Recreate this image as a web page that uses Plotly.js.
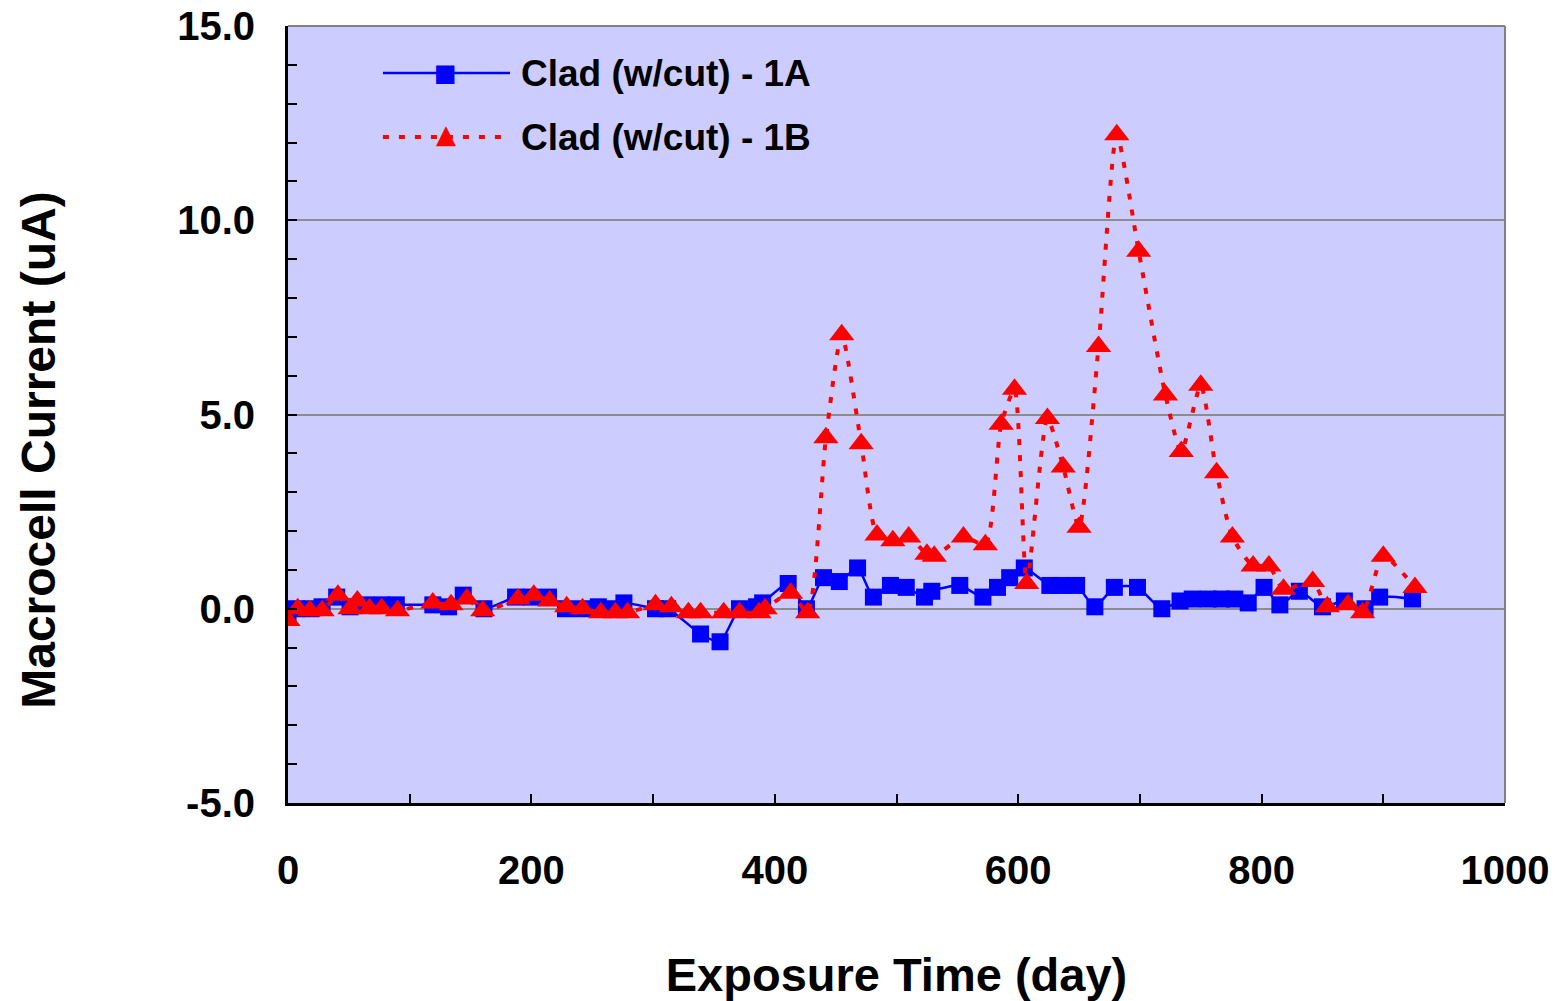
<!DOCTYPE html>
<html>
<head>
<meta charset="utf-8">
<script src="https://cdn.plot.ly/plotly-3.0.1.min.js"></script>
<style>html,body{margin:0;padding:0;background:#fff;}#chart{width:1565px;height:1001px;}</style>
</head>
<body>
<div id="chart"></div>
<script>
// Series 1A (blue squares)
const daysA = [0,7,19,28,40,51,64,77,89,119,132,144,161,187,200,214,228,242,255,268,276,302,312,339,355,371,385,390,411,426,440,453,468,481,495,508,523,529,552,571,583,593,605,626,636,648,663,679,698,718,733,743,756,767,778,789,802,815,831,850,868,885,897,924];
const currentA = [-0.2,0.0,0.0,0.05,0.3,0.05,0.1,0.1,0.1,0.1,0.05,0.35,0.0,0.3,0.3,0.3,0.0,0.0,0.05,0.0,0.15,0.0,0.0,-0.65,-0.85,0.0,0.05,0.15,0.65,0.0,0.8,0.7,1.05,0.3,0.6,0.55,0.3,0.45,0.6,0.3,0.55,0.8,1.05,0.6,0.6,0.6,0.05,0.55,0.55,0.0,0.2,0.25,0.25,0.25,0.25,0.15,0.55,0.1,0.45,0.05,0.2,0.0,0.3,0.25];
// Series 1B (red triangles)
const daysB = [0,8,18,28,41,51,57,67,77,90,119,134,147,160,189,202,215,229,242,257,269,279,302,315,329,339,358,371,387,392,413,427,442,455,471,484,497,510,525,531,555,573,586,597,607,624,637,650,666,681,699,721,734,750,763,776,793,806,818,842,854,871,883,900,926];
const currentB = [-0.3,0.0,-0.05,-0.05,0.35,0.0,0.2,0.0,0.0,-0.05,0.15,0.1,0.25,-0.05,0.25,0.35,0.2,0.05,0.0,-0.1,-0.1,-0.1,0.1,0.05,-0.1,-0.1,-0.1,-0.1,-0.1,0.0,0.4,-0.1,4.4,7.05,4.25,1.9,1.75,1.85,1.4,1.35,1.85,1.65,4.75,5.65,0.65,4.9,3.65,2.1,6.75,12.2,9.2,5.5,4.05,5.75,3.5,1.85,1.1,1.1,0.5,0.7,0.05,0.1,-0.1,1.35,0.55];
const seriesNames = ['Clad (w/cut) - 1A','Clad (w/cut) - 1B'];
const xTickVals = [0,200,400,600,800,1000];
const yTickVals = [-5,0,5,10,15];
const yTickText = ['-5.0','0.0','5.0','10.0','15.0'];
const xTitle = 'Exposure Time (day)';
const yTitle = 'Macrocell Current (uA)';

const F = 'Liberation Sans, Arial, sans-serif';
const BLUE = '#0000FF', RED = '#FF0000';

const traces = [
  {
    x: daysA, y: currentA, name: seriesNames[0], type: 'scatter', mode: 'lines+markers',
    line: {color: BLUE, width: 2.5, shape: 'spline', smoothing: 0.6},
    marker: {symbol: 'square', size: 17, color: BLUE},
    showlegend: false
  },
  {
    x: daysB, y: currentB, name: seriesNames[1], type: 'scatter', mode: 'lines+markers',
    line: {color: RED, width: 4, dash: '6px,10px', shape: 'spline', smoothing: 0.6},
    marker: {symbol: 'triangle-up', size: 22, color: RED},
    showlegend: false
  }
];

// custom legend (long symbol lines like the original)
const legY = [0.9395, 0.8571];
const legX0 = 0.078, legX1 = 0.1824, legMid = 0.1295, legText = 0.1895;

const layout = {
  width: 1565, height: 1001,
  paper_bgcolor: '#FFFFFF',
  plot_bgcolor: '#CCCCFF',
  margin: {l: 288, r: 60, t: 26, b: 198},
  showlegend: false,
  xaxis: {
    range: [0, 1000],
    tickvals: xTickVals,
    ticks: 'inside', ticklen: 9, tickwidth: 2, tickcolor: '#000',
    minor: {dtick: 100, ticks: 'inside', ticklen: 9, tickwidth: 2, tickcolor: '#000'},
    showline: true, linecolor: '#000', linewidth: 3,
    showgrid: false, zeroline: false,
    ticklabelstandoff: 30,
    tickfont: {family: F, size: 40, color: '#000', weight: 'bold'},
    title: {text: xTitle, font: {family: F, size: 47, color: '#000', weight: 'bold'}, standoff: 79}
  },
  yaxis: {
    range: [-5, 15],
    tickvals: yTickVals, ticktext: yTickText,
    ticks: 'inside', ticklen: 9, tickwidth: 2, tickcolor: '#000',
    minor: {dtick: 1, ticks: 'inside', ticklen: 9, tickwidth: 2, tickcolor: '#000', showgrid: false},
    showline: true, linecolor: '#000', linewidth: 3,
    showgrid: true, gridcolor: '#8C8C8C', gridwidth: 1.5,
    zeroline: false,
    ticklabelstandoff: 22,
    tickfont: {family: F, size: 40, color: '#000', weight: 'bold'}
  },
  shapes: [
    {type: 'line', xref: 'paper', yref: 'paper', x0: 0, x1: 1, y0: 1, y1: 1, line: {color: '#808080', width: 2}},
    {type: 'line', xref: 'paper', yref: 'paper', x0: 1, x1: 1, y0: 0, y1: 1, line: {color: '#808080', width: 2}},
    {type: 'line', xref: 'paper', yref: 'paper', x0: legX0, x1: legX1, y0: legY[0], y1: legY[0], line: {color: BLUE, width: 2.5}},
    {type: 'line', xref: 'paper', yref: 'paper', x0: legX0, x1: legX1, y0: legY[1], y1: legY[1], line: {color: RED, width: 4, dash: '6px,10px'}}
  ],
  annotations: [
    {xref: 'paper', yref: 'paper', x: -0.205, y: 0.454, text: yTitle, textangle: -90, showarrow: false, xanchor: 'center', yanchor: 'middle', font: {family: F, size: 48, color: '#000', weight: 'bold'}},
    {xref: 'paper', yref: 'paper', x: legMid, y: legY[0], text: '■', showarrow: false, xanchor: 'center', yanchor: 'middle', font: {family: 'DejaVu Sans', size: 24, color: BLUE}},
    {xref: 'paper', yref: 'paper', x: legMid, y: legY[1] + 0.004, text: '▲', showarrow: false, xanchor: 'center', yanchor: 'middle', font: {family: 'DejaVu Sans', size: 26, color: RED}},
    {xref: 'paper', yref: 'paper', x: legText, y: legY[0], text: seriesNames[0], showarrow: false, xanchor: 'left', yanchor: 'middle', font: {family: F, size: 37, color: '#000', weight: 'bold'}},
    {xref: 'paper', yref: 'paper', x: legText, y: legY[1], text: seriesNames[1], showarrow: false, xanchor: 'left', yanchor: 'middle', font: {family: F, size: 37, color: '#000', weight: 'bold'}}
  ]
};

Plotly.newPlot('chart', traces, layout, {displayModeBar: false, responsive: false});
</script>
</body>
</html>
